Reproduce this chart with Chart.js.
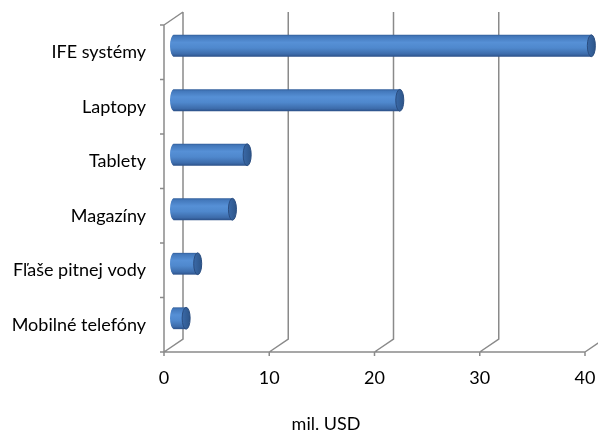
<!DOCTYPE html>
<html>
<head>
<meta charset="utf-8">
<script src="https://cdn.jsdelivr.net/npm/chart.js@4.4.1/dist/chart.umd.min.js"></script>
<style>
  html, body { margin: 0; padding: 0; background: #fff; }
  #wrap { width: 598px; height: 432px; position: relative; }
</style>
</head>
<body>
<div id="wrap"><canvas id="c"></canvas></div>
<script>
// Categories (top to bottom) and values in mil. USD
const categories = ['IFE systémy', 'Laptopy', 'Tablety', 'Magazíny', 'Fľaše pitnej vody', 'Mobilné telefóny'];
const values = [39.7, 21.5, 7.0, 5.6, 2.3, 1.2];
const xTicks = [0, 10, 20, 30, 40];
const axisTitle = 'mil. USD';

const FONT = 'Lato, "Open Sans", sans-serif';
const GRID = '#8a8a8a';
// depth of the 3D box (back wall offset) and bar depth position (half way)
const DEPTH = { dx: 19, dy: -13 };
const MID = { dx: DEPTH.dx / 2, dy: DEPTH.dy / 2 };

function barGradient(chart, yc, half) {
  const g = chart.ctx.createLinearGradient(0, yc - half, 0, yc + half);
  g.addColorStop(0.00, '#33609c');
  g.addColorStop(0.08, '#4378bb');
  g.addColorStop(0.35, '#5690d6');
  g.addColorStop(0.60, '#4f88cd');
  g.addColorStop(0.88, '#3d6cab');
  g.addColorStop(1.00, '#2b5088');
  return g;
}

// Back wall, floor edges and front axes of the 3D frame
const frame3d = {
  id: 'frame3d',
  beforeDatasetsDraw(chart) {
    const { ctx, chartArea: a, scales: { x } } = chart;
    ctx.save();
    ctx.strokeStyle = GRID;
    ctx.lineWidth = 1.5;
    ctx.beginPath();
    xTicks.forEach(v => {
      const fx = x.getPixelForValue(v);
      ctx.moveTo(fx + DEPTH.dx, a.top + DEPTH.dy);
      ctx.lineTo(fx + DEPTH.dx, a.bottom + DEPTH.dy);
      ctx.lineTo(fx, a.bottom);
    });
    // side wall top edge
    ctx.moveTo(a.left, a.top);
    ctx.lineTo(a.left + DEPTH.dx, a.top + DEPTH.dy);
    // front axes
    ctx.moveTo(a.left, a.top);
    ctx.lineTo(a.left, a.bottom);
    ctx.lineTo(a.right, a.bottom);
    // category tick marks
    const n = categories.length;
    for (let i = 0; i <= n; i++) {
      const ty = a.top + (a.bottom - a.top) * i / n;
      ctx.moveTo(a.left - 4, ty);
      ctx.lineTo(a.left, ty);
    }
    // value tick marks
    xTicks.forEach(v => {
      const fx = x.getPixelForValue(v);
      ctx.moveTo(fx, a.bottom);
      ctx.lineTo(fx, a.bottom + 4);
    });
    ctx.stroke();
    ctx.restore();

    // bars sit half way into the depth of the box
    ctx.save();
    ctx.translate(MID.dx, MID.dy);
  },
  afterDatasetsDraw(chart) {
    const { ctx } = chart;
    const meta = chart.getDatasetMeta(0);
    meta.data.forEach(bar => {
      const half = bar.height / 2;
      const rx = 4;
      const x0 = bar.base, x1 = bar.x, yc = bar.y;
      // rounded back end of the cylinder
      ctx.beginPath();
      ctx.ellipse(x0 + 0.5, yc, rx, half, 0, Math.PI / 2, Math.PI * 1.5);
      ctx.closePath();
      ctx.fillStyle = barGradient(chart, yc, half);
      ctx.fill();
      // end face
      ctx.beginPath();
      ctx.ellipse(x1, yc, rx, half, 0, 0, Math.PI * 2);
      const cg = ctx.createLinearGradient(x1 - rx, 0, x1 + rx, 0);
      cg.addColorStop(0, '#3a69a7');
      cg.addColorStop(1, '#2d5589');
      ctx.fillStyle = cg;
      ctx.fill();
      ctx.lineWidth = 1;
      ctx.strokeStyle = '#2a4d80';
      ctx.stroke();
    });
    ctx.restore();
  },
  afterDraw(chart) {
    const { ctx, chartArea: a } = chart;
    ctx.save();
    ctx.font = '18px ' + FONT;
    ctx.fillStyle = '#000';
    ctx.textAlign = 'center';
    ctx.textBaseline = 'middle';
    ctx.fillText(axisTitle, a.left + (a.right - a.left) * 0.385, 424);
    ctx.restore();
  }
};

new Chart(document.getElementById('c'), {
  type: 'bar',
  data: {
    labels: categories,
    datasets: [{
      data: values,
      borderWidth: 0,
      clip: false,
      categoryPercentage: 1,
      barPercentage: 0.4,
      backgroundColor: (c) => {
        const chart = c.chart;
        if (!chart.chartArea) return '#4f81bd';
        const y = chart.scales.y;
        const band = (y.bottom - y.top) / categories.length;
        const half = band * 0.4 / 2;
        return barGradient(chart, y.getPixelForValue(c.dataIndex), half);
      }
    }]
  },
  options: {
    indexAxis: 'y',
    responsive: true,
    maintainAspectRatio: false,
    animation: false,
    layout: { padding: { top: 25, right: 13, left: 0, bottom: 0 } },
    plugins: { legend: { display: false }, tooltip: { enabled: false } },
    scales: {
      x: {
        type: 'linear',
        min: 0,
        max: 40,
        afterBuildTicks: (s) => { s.ticks = xTicks.map(v => ({ value: v })); },
        afterFit: (s) => { s.height = 80; s.paddingLeft = 0; s.paddingRight = 0; },
        grid: { display: false, drawTicks: false },
        border: { display: false },
        ticks: { color: '#000', font: { family: FONT, size: 18 }, padding: 15 }
      },
      y: {
        afterFit: (s) => { s.width = 164; s.paddingTop = 0; s.paddingBottom = 0; },
        grid: { display: false, drawTicks: false },
        border: { display: false },
        ticks: { color: '#000', font: { family: FONT, size: 18 }, padding: 18 }
      }
    }
  },
  plugins: [frame3d]
});
</script>
</body>
</html>
